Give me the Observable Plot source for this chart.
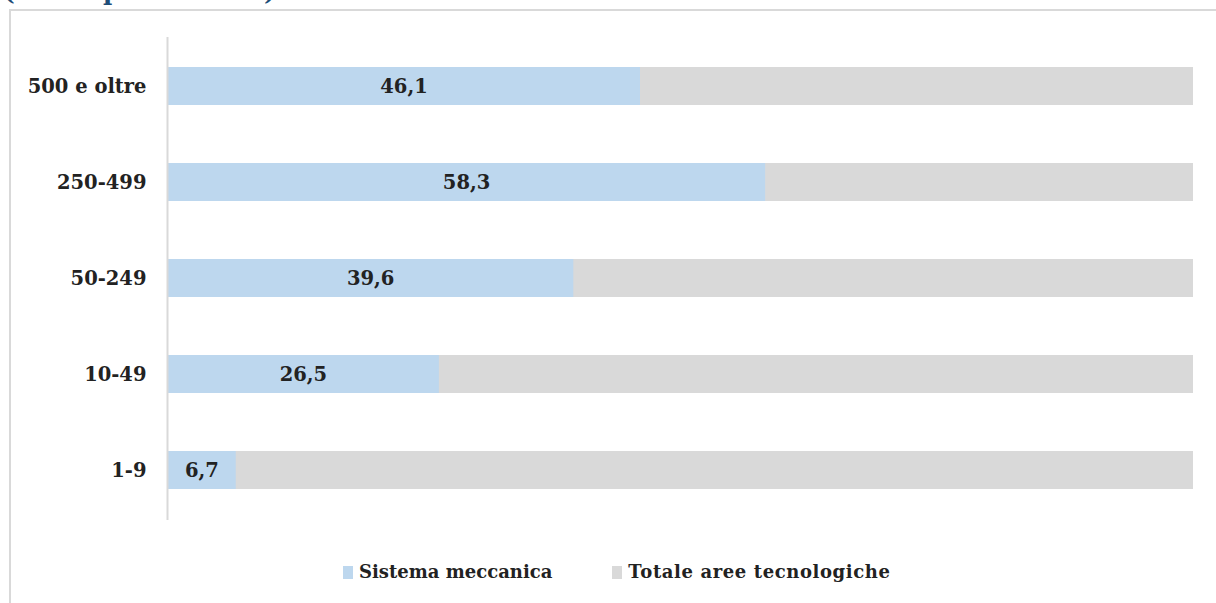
<!DOCTYPE html>
<html><head><meta charset="utf-8">
<script src="https://cdn.jsdelivr.net/npm/d3@7"></script>
<script src="https://cdn.jsdelivr.net/npm/@observablehq/plot@0.6"></script>
<style>
html,body{margin:0;padding:0;background:#fff;width:1216px;height:603px;overflow:hidden;}
#wrap{position:relative;width:1216px;height:603px;overflow:hidden;}
#title{position:absolute;left:3px;top:-21px;line-height:1;font-family:"DejaVu Serif",serif;font-weight:bold;font-size:25px;color:#1F4E79;white-space:nowrap;}
#frame{position:absolute;left:9px;top:9px;width:1220px;height:610px;border:2px solid #d9d9d9;box-sizing:border-box;}
#chart{position:absolute;left:0;top:0;}
#legend{position:absolute;top:561px;left:343px;line-height:22px;font-family:"DejaVu Serif",serif;font-weight:bold;font-size:18px;color:#222;display:flex;align-items:center;white-space:nowrap;}
.sw{display:inline-block;width:10px;height:13px;margin-right:6px;}
.item{display:flex;align-items:center;}
</style></head>
<body><div id="wrap">
<div id="title">(valori percentuali)</div>
<div id="frame"></div>
<div id="chart"></div>
<div id="legend"></div>
</div>
<script>
const categories = ["500 e oltre", "250-499", "50-249", "10-49", "1-9"];
const meccanica = [46.1, 58.3, 39.6, 26.5, 6.7];
const totale = [100, 100, 100, 100, 100];
const seriesNames = ["Sistema meccanica", "Totale aree tecnologiche"];
const colors = ["#BDD7EE", "#D9D9D9"];

const data = categories.map((c, i) => ({cat: c, mec: meccanica[i], tot: totale[i]}));
const fmt = v => v.toFixed(1).replace(".", ",");
const font = "DejaVu Serif";

const chart = Plot.plot({
  width: 1216, height: 603,
  marginLeft: 167, marginRight: 23, marginTop: 37, marginBottom: 83,
  style: {fontFamily: font, fontSize: "19.5px", background: "transparent"},
  x: {domain: [0, 100], axis: null},
  y: {domain: categories, paddingInner: 0.6, paddingOuter: 0.3, label: null},
  marks: [
    Plot.barX(data, {y: "cat", x: "tot", fill: colors[1]}),
    Plot.barX(data, {y: "cat", x: "mec", fill: colors[0]}),
    Plot.text(data, {y: "cat", x: d => d.mec / 2, text: d => fmt(d.mec), fontWeight: "bold", fontSize: 19.5, fill: "#222"}),
    Plot.ruleX([0], {stroke: "#d9d9d9", strokeWidth: 2}),
    Plot.axisY({tickSize: 0, tickPadding: 21, fontWeight: "bold", fontSize: 19.5, fill: "#222", label: null})
  ]
});
document.getElementById("chart").appendChild(chart);

const leg = document.getElementById("legend");
seriesNames.forEach((n, i) => {
  const it = document.createElement("span");
  it.className = "item";
  if (i > 0) { it.style.marginLeft = "60px"; it.style.letterSpacing = "0.6px"; }
  it.innerHTML = `<span class="sw" style="background:${colors[i]}"></span>${n}`;
  leg.appendChild(it);
});
</script></body></html>
